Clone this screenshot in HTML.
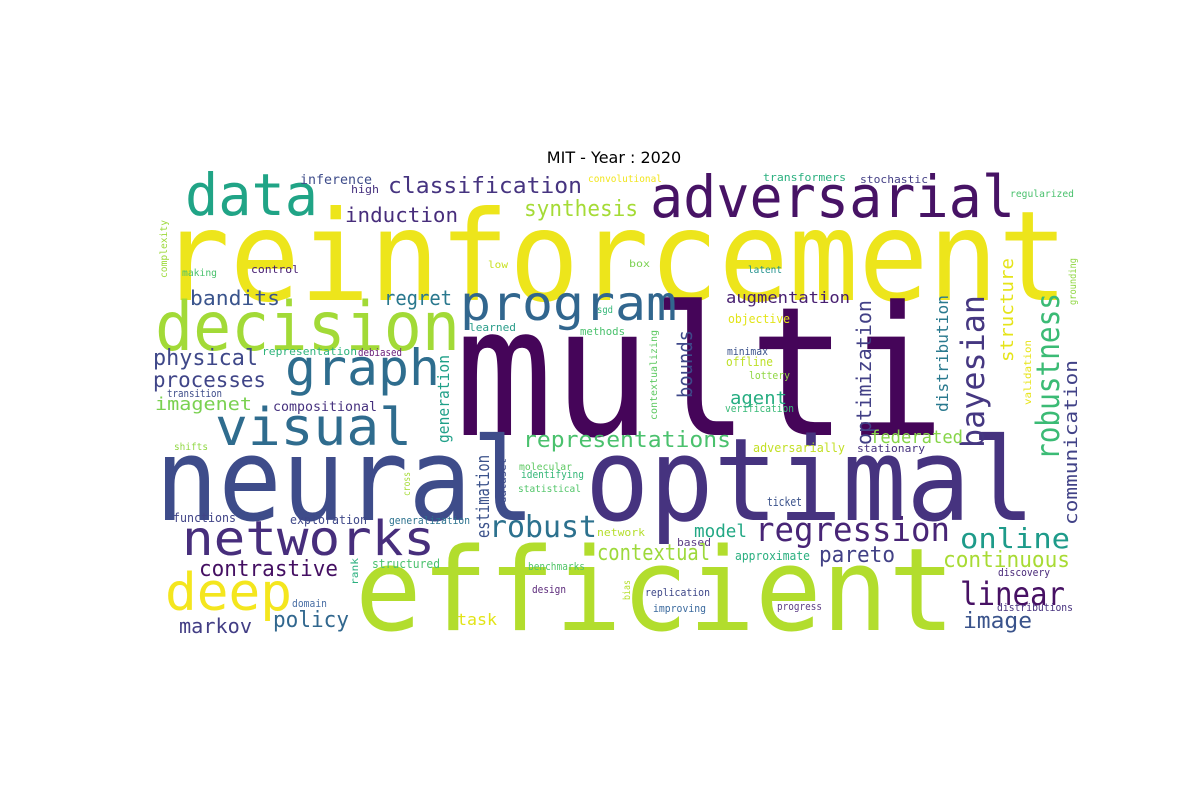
<!DOCTYPE html>
<html><head><meta charset="utf-8">
<style>
html,body{margin:0;padding:0;background:#fff;}
svg{display:block;}
</style></head>
<body>
<svg id="chart" width="1200" height="800" viewBox="0 0 1200 800" xmlns="http://www.w3.org/2000/svg">
<rect width="1200" height="800" fill="#fff"/>
<text x="614" y="163" text-anchor="middle" font-family="DejaVu Sans, Liberation Sans, sans-serif" font-size="16" fill="#000">MIT - Year : 2020</text>
<g id="cloud" font-family="DejaVu Sans Mono, Liberation Mono, monospace"></g>
</svg>
<script>
const words = ["reinforcement","multi","neural","optimal","efficient","decision","data","adversarial","program","graph","visual","networks","deep",
"classification","induction","synthesis","inference","high","convolutional","transformers","stochastic","regularized","complexity","making","control","low","box","latent","grounding",
"bandits","regret","augmentation","optimization","distribution","bayesian","structure","robustness","communication","learned","methods","sgd","contextualizing","bounds","objective","minimax","offline","lottery","verification","validation",
"physical","representation","debiased","processes","transition","imagenet","compositional","generation","estimation","representations","agent","federated","adversarially","stationary","shifts","molecular","identifying","statistical","cross","dataset",
"functions","exploration","generalization","robust","network","ticket","regression","model","online","based","contextual","approximate","pareto","continuous","contrastive","rank","structured","benchmarks","discovery","linear","bias","design","replication","distributions","improving","progress","domain","markov","policy","task","image"];
const sizes = [125,180,115,115,115,68,58,58,48,50,52,48,52,
22,20,22,13,11,10,11,11,10,10,10,11,10,10,10,10,
20,20,16,20,16,32,18,32,18,11,11,10,10,20,12,11,12,11,11,10,
22,11,11,21,11,18,13,16,18,22,18,18,12,11,10,10,11,10,10,10,
12,12,11,30,11,12,33,18,28,11,22,12,22,22,22,10,12,11,11,32,10,11,11,11,11,11,11,20,22,16,22];
const colors = ["#ede51b","#450559","#3e4c8a","#46337f","#b2dd2d","#a2da37","#20a486","#471365","#31668e","#2e6d8e","#2f6c8e","#472e7c","#f4e61e",
"#463480","#472d7b","#a5db36","#3e4c8a","#46317e","#f1e51d","#2ab07f","#433e85","#4ac16d","#9dd93b","#4ac16d","#482071","#c8e020","#7ad151","#21918c","#90d743",
"#3a548c","#2a788e","#482071","#424086","#29798e","#453781","#e5e419","#3bbb75","#414287","#2a9d8a","#4ac16d","#35b779","#5ec962","#3f4889","#e2e418","#3b528b","#bddf26","#90d743","#38b977","#e7e419",
"#3f4889","#2fb47c","#6a1f7a","#404588","#3e4c8a","#7ad151","#46317e","#1fa088","#3b528b","#4ac16d","#26ad81","#86d549","#c2df23","#46327e","#90d743","#5ec962","#35b779","#52c569","#a5db36","#3e4c8a",
"#414487","#3f4889","#2c728e","#2c718e","#b5de2b","#3b528b","#482576","#22a884","#1e9b8a","#5c3d85","#9dd93b","#29af7f","#424186","#a8db34","#440f62","#2ab07f","#4ac16d","#52c569","#482878","#471164","#b5de2b","#5c2a7b","#3f4889","#46317e","#3b6a9e","#5c3d85","#4a6fa5","#433e85","#31678e","#e2e418","#3a538b"];
// layout: [x, baselineY, length, rotation] (rotation -90 => x is baseline column, y is bottom)
const layout = [[160,300,908,0],[455,435,490,0],[155,520,380,0],[585,520,450,0],[355,630,600,0],[155,350,305,0],[185,215,133,0],[650,217,365,0],[460,320,217,0],[285,385,155,0],[215,445,197,0],[182,555,253,0],[165,610,127,0],
[388,193,194,0],[345,222,113,0],[524,216,114,0],[300,184,72,0],[351,193,28,0],[588,182,74,0],[763,181,83,0],[860,183,68,0],[1010,197,64,0],[167,278,58,-90],[182,276,35,0],[251,273,48,0],[488,268,20,0],[629,267,21,0],[748,273,34,0],[1076,305,47,-90],
[190,305,90,0],[384,305,68,0],[726,303,124,0],[871,445,145,-90],[948,412,117,-90],[984,448,153,-90],[1013,362,104,-90],[1059,460,167,-90],[1077,525,165,-90],[469,331,47,0],[580,335,45,0],[597,313,16,0],[657,420,90,-90],[692,398,68,-90],[728,323,62,0],[727,355,41,0],[726,366,47,0],[749,379,41,0],[725,412,69,0],[1031,405,65,-90],
[153,365,105,0],[262,355,95,0],[358,356,44,0],[153,387,113,0],[167,397,55,0],[155,410,97,0],[273,411,104,0],[449,443,88,-90],[489,538,83,-90],[523,447,208,0],[730,404,57,0],[870,443,93,0],[753,452,92,0],[857,452,68,0],[174,450,34,0],[519,470,53,0],[521,478,63,0],[518,492,63,0],[410,496,24,-90],[506,503,45,-90],
[173,522,63,0],[290,524,77,0],[389,524,81,0],[489,537,108,0],[597,536,48,0],[767,506,35,0],[755,541,195,0],[694,537,53,0],[960,548,110,0],[677,546,34,0],[597,560,113,0],[735,560,75,0],[819,562,76,0],[943,567,127,0],[199,576,139,0],[358,585,27,-90],[372,568,68,0],[528,570,57,0],[998,576,52,0],[960,605,105,0],[630,600,20,-90],[532,593,34,0],[645,596,65,0],[997,611,76,0],[653,612,53,0],[777,610,45,0],[292,607,35,0],[179,633,73,0],[273,627,76,0],[457,625,40,0],[963,628,69,0]];
const g = document.getElementById('cloud');
const NS = 'http://www.w3.org/2000/svg';
for (let i = 0; i < words.length; i++) {
  const t = document.createElementNS(NS, 'text');
  const [x, y, len, rot] = layout[i];
  
  
  t.setAttribute('x', x);
  t.setAttribute('y', y);
  t.setAttribute('font-size', sizes[i]);
  t.setAttribute('fill', colors[i]);
  t.setAttribute('textLength', len);
  t.setAttribute('lengthAdjust', 'spacingAndGlyphs');
  if (rot) t.setAttribute('transform', 'rotate(' + rot + ' ' + x + ' ' + y + ')');
  t.textContent = words[i];
  g.appendChild(t);
}
</script>
</body></html>
